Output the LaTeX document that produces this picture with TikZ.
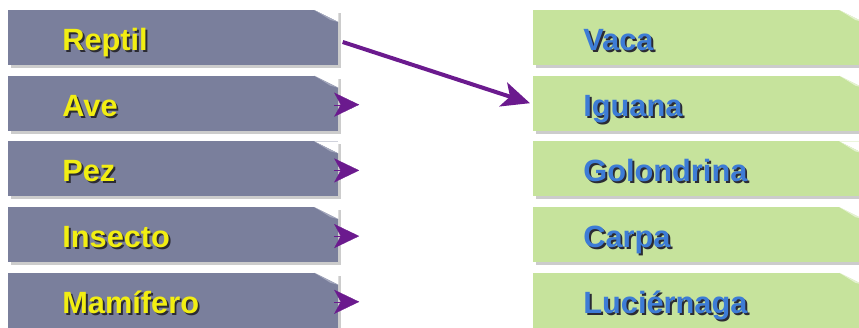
\documentclass[tikz,border=0pt]{standalone}
\usepackage{fontspec}
\setmainfont{Liberation Sans}
\usepackage{xcolor}
\usepackage{tikz}
\usetikzlibrary{arrows.meta,positioning,shadows}
\definecolor{slate}{HTML}{7A7F9C}
\definecolor{slatefold}{HTML}{A3A7BC}
\definecolor{leaf}{HTML}{C6E39C}
\definecolor{leaffold}{HTML}{E4F1D0}
\definecolor{lemon}{HTML}{F2EE12}
\definecolor{sky}{HTML}{3D7CD6}
\definecolor{inkdark}{HTML}{2B2B33}
\definecolor{grape}{HTML}{6B1A8E}
\newcommand{\relieve}[2]{\makebox[0pt][l]{\hspace{1.1pt}\raisebox{-1.1pt}{\textcolor{inkdark}{#2}}}\textcolor{#1}{#2}}
\tikzset{
  card/.style={rectangle, minimum width=66mm, minimum height=11mm, anchor=west, align=left,
    text height=5.2mm, text depth=0mm,
    font=\fontsize{17.5}{20}\selectfont\bfseries,
    drop shadow={shadow xshift=0.5mm, shadow yshift=-0.6mm, opacity=0.4},
    path picture={
      \fill[white] ([xshift=-4.8mm]path picture bounding box.north east) -- (path picture bounding box.north east) -- ([yshift=-2.4mm]path picture bounding box.north east) -- cycle;
      \fill[#1] ([xshift=-4.8mm]path picture bounding box.north east) -- ([yshift=-2.4mm]path picture bounding box.north east) -- ([xshift=-1.6mm,yshift=-2mm]path picture bounding box.north east) -- cycle;
    }},
  link/.style={-{Stealth[length=5.6mm,width=5mm,inset=1.4mm]}, line width=0.8mm, grape},
  stub/.style={-{Stealth[length=5mm,width=4.8mm,inset=1.3mm]}, line width=0.05mm, grape}
}

\begin{document}
\begin{tikzpicture}[
  group/.style={card=slatefold, fill=slate, text width=44.4mm, inner xsep=10.8mm},
  animal/.style={card=leaffold, fill=leaf, text width=46mm, inner xsep=10mm}
]
  \useasboundingbox (0,0) rectangle (171.8mm,-65.6mm);

  \node[group] (reptil) at (1.6mm,-7.5mm) {\relieve{lemon}{Reptil}};
  \node[group] (ave) at (1.6mm,-20.64mm) {\relieve{lemon}{Ave}};
  \node[group] (pez) at (1.6mm,-33.78mm) {\relieve{lemon}{Pez}};
  \node[group] (insecto) at (1.6mm,-46.92mm) {\relieve{lemon}{Insecto}};
  \node[group] (mamifero) at (1.6mm,-60.06mm) {\relieve{lemon}{Mamífero}};

  \node[animal] (vaca) at (106.6mm,-7.5mm) {\relieve{sky}{Vaca}};
  \node[animal] (iguana) at (106.6mm,-20.64mm) {\relieve{sky}{Iguana}};
  \node[animal] (golondrina) at (106.6mm,-33.78mm) {\relieve{sky}{Golondrina}};
  \node[animal] (carpa) at (106.6mm,-46.92mm) {\relieve{sky}{Carpa}};
  \node[animal] (luciernaga) at (106.6mm,-60.06mm) {\relieve{sky}{Luciérnaga}};

  \draw[link] ([xshift=0.8mm,yshift=-0.9mm]reptil.east) -- ([xshift=-0.6mm]iguana.west);
  \draw[stub] ([xshift=-0.9mm,yshift=-0.3mm]ave.east) -- ([xshift=4.1mm,yshift=-0.3mm]ave.east);
  \draw[stub] ([xshift=-0.9mm,yshift=-0.3mm]pez.east) -- ([xshift=4.1mm,yshift=-0.3mm]pez.east);
  \draw[stub] ([xshift=-0.9mm,yshift=-0.3mm]insecto.east) -- ([xshift=4.1mm,yshift=-0.3mm]insecto.east);
  \draw[stub] ([xshift=-0.9mm,yshift=-0.3mm]mamifero.east) -- ([xshift=4.1mm,yshift=-0.3mm]mamifero.east);
\end{tikzpicture}
\end{document}
